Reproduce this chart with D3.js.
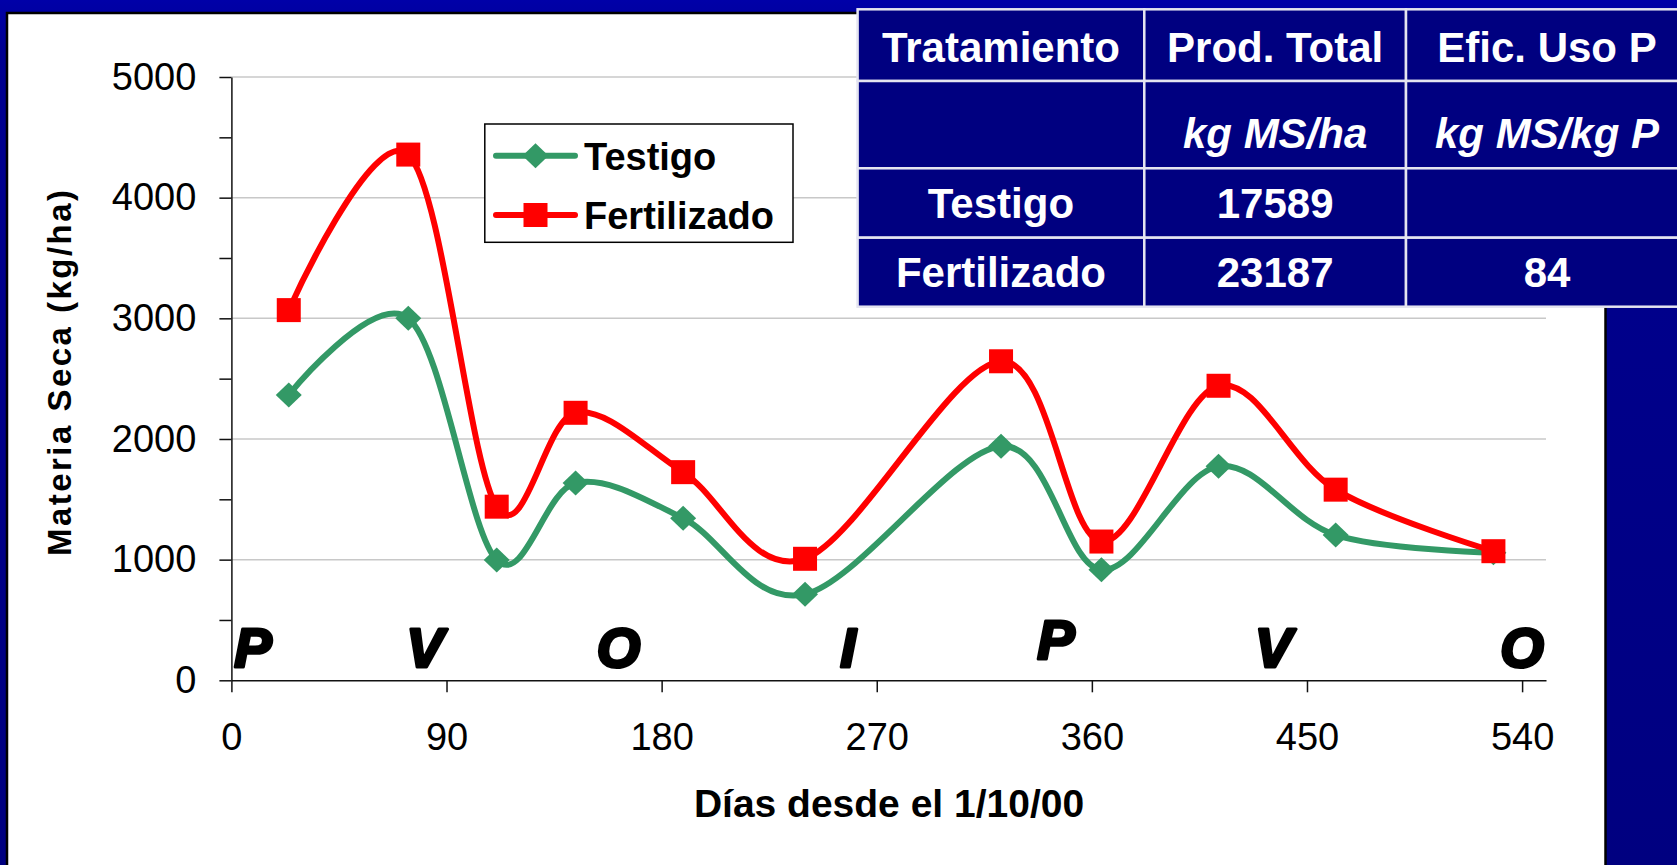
<!DOCTYPE html>
<html>
<head>
<meta charset="utf-8">
<script src="https://cdn.jsdelivr.net/npm/d3@7"></script>
<style>
  body { margin: 0; background: #000080; }
  svg { display: block; font-family: "Liberation Sans", Arial, sans-serif; }
</style>
</head>
<body>
<script>
// datos
var dias = [24, 74, 111, 144, 189, 240, 322, 364, 413, 462, 528];
var testigo = [2365, 3000, 997, 1635, 1343, 713, 1940, 916, 1773, 1204, 1058];
var fertilizado = [3068, 4357, 1439, 2217, 1725, 1007, 2644, 1150, 2441, 1580, 1070];

var xTicks = [0, 90, 180, 270, 360, 450, 540];
var yTicks = [0, 500, 1000, 1500, 2000, 2500, 3000, 3500, 4000, 4500, 5000];

var estaciones = ["P", "V", "O", "I", "P", "V", "O"];
var estacionDia = [9, 81, 162, 258, 345, 436, 540];
var estacionNivel = [110, 110, 110, 110, 180, 110, 110];

var tablaCabecera = ["Tratamiento", "Prod. Total", "Efic. Uso P"];
var tablaUnidades = ["", "kg MS/ha", "kg MS/kg P"];
var tablaFilas = [["Testigo", "17589", ""], ["Fertilizado", "23187", "84"]];

var w = 1677;
var h = 865;

var svg = d3.select("body")
    .append("svg")
    .attr("width", w)
    .attr("height", h);

// fondo
var defs = svg.append("defs");
var grad = defs.append("linearGradient")
    .attr("id", "fondo")
    .attr("x1", 0).attr("y1", 0).attr("x2", 0).attr("y2", 1);
grad.append("stop").attr("offset", "0%").attr("stop-color", "#0000a8");
grad.append("stop").attr("offset", "6%").attr("stop-color", "#000090");
grad.append("stop").attr("offset", "100%").attr("stop-color", "#000080");

svg.append("rect")
    .attr("width", w).attr("height", h)
    .attr("fill", "url(#fondo)");

// caja blanca del grafico
svg.append("rect")
    .attr("x", 7).attr("y", 13)
    .attr("width", 1598.5).attr("height", 900)
    .attr("fill", "white")
    .attr("stroke", "black")
    .attr("stroke-width", 2.5);

var x = d3.scaleLinear().domain([0, 550]).range([231.4, 1546]);
var y = d3.scaleLinear().domain([0, 5000]).range([680.3, 77]);

// lineas de grilla
svg.selectAll("line.grid")
    .data([1000, 2000, 3000, 4000, 5000])
    .enter()
    .append("line")
    .attr("class", "grid")
    .attr("x1", x(0)).attr("x2", x(550))
    .attr("y1", function (d) { return y(d); })
    .attr("y2", function (d) { return y(d); })
    .attr("stroke", "#c8c8c8")
    .attr("stroke-width", 1.5);

// ejes
var ejeY = svg.append("g")
    .attr("transform", "translate(" + x(0) + ",0)")
    .call(d3.axisLeft(y)
        .tickValues(yTicks)
        .tickSize(12)
        .tickSizeOuter(0)
        .tickPadding(23)
        .tickFormat(function (d) { return d % 1000 === 0 ? d : ""; }));

var ejeX = svg.append("g")
    .attr("transform", "translate(0," + y(0) + ")")
    .call(d3.axisBottom(x)
        .tickValues(xTicks)
        .tickSize(12)
        .tickSizeOuter(0)
        .tickPadding(31));

[ejeY, ejeX].forEach(function (g) {
    g.selectAll("path, line").attr("stroke", "#111").attr("stroke-width", 1.5);
    g.selectAll("text")
        .attr("font-size", 38)
        .attr("font-family", "'Liberation Sans', Arial, sans-serif")
        .attr("fill", "black");
});

// titulos de ejes
svg.append("text")
    .attr("x", 889).attr("y", 817)
    .attr("text-anchor", "middle")
    .attr("font-size", 39)
    .attr("font-weight", "bold")
    .text("Días desde el 1/10/00");

svg.append("text")
    .attr("transform", "translate(71,373) rotate(-90)")
    .attr("text-anchor", "middle")
    .attr("font-size", 33)
    .attr("font-weight", "bold")
    .attr("textLength", 366)
    .attr("lengthAdjust", "spacing")
    .text("Materia Seca (kg/ha)");

// estaciones
svg.selectAll("text.est")
    .data(estaciones)
    .enter()
    .append("text")
    .attr("class", "est")
    .attr("x", function (d, i) { return x(estacionDia[i]); })
    .attr("y", function (d, i) { return y(estacionNivel[i]); })
    .attr("text-anchor", "middle")
    .attr("font-size", 56)
    .attr("font-weight", "bold")
    .attr("font-style", "italic")
    .attr("stroke", "black")
    .attr("stroke-width", 3.2)
    .attr("stroke-linejoin", "round")
    .text(function (d) { return d; });

// series
var linea = d3.line()
    .x(function (d, i) { return x(dias[i]); })
    .y(function (d) { return y(d); })
    .curve(d3.curveCardinal.tension(0));

function diamante(cx, cy) {
    return "M" + cx + "," + (cy - 12.5) + "L" + (cx + 13) + "," + cy +
        "L" + cx + "," + (cy + 12.5) + "L" + (cx - 13) + "," + cy + "Z";
}

svg.append("path")
    .attr("d", linea(testigo))
    .attr("fill", "none")
    .attr("stroke", "#339966")
    .attr("stroke-width", 6)
    .attr("stroke-linejoin", "round");

svg.selectAll("path.dia")
    .data(testigo)
    .enter()
    .append("path")
    .attr("class", "dia")
    .attr("d", function (d, i) { return diamante(x(dias[i]), y(d)); })
    .attr("fill", "#339966");

svg.append("path")
    .attr("d", linea(fertilizado))
    .attr("fill", "none")
    .attr("stroke", "#ff0000")
    .attr("stroke-width", 6)
    .attr("stroke-linejoin", "round");

svg.selectAll("rect.cua")
    .data(fertilizado)
    .enter()
    .append("rect")
    .attr("class", "cua")
    .attr("x", function (d, i) { return x(dias[i]) - 12; })
    .attr("y", function (d) { return y(d) - 12; })
    .attr("width", 24)
    .attr("height", 24)
    .attr("fill", "#ff0000");

// leyenda
var ley = svg.append("g");
ley.append("rect")
    .attr("x", 484.8).attr("y", 124)
    .attr("width", 308.2).attr("height", 118.3)
    .attr("fill", "white")
    .attr("stroke", "black")
    .attr("stroke-width", 1.5);

ley.append("line")
    .attr("x1", 496).attr("x2", 575).attr("y1", 155.7).attr("y2", 155.7)
    .attr("stroke", "#339966").attr("stroke-width", 6).attr("stroke-linecap", "round");
ley.append("path").attr("d", diamante(535.5, 155.7)).attr("fill", "#339966");
ley.append("text")
    .attr("x", 584).attr("y", 170)
    .attr("font-size", 38).attr("font-weight", "bold")
    .text("Testigo");

ley.append("line")
    .attr("x1", 496).attr("x2", 575).attr("y1", 215).attr("y2", 215)
    .attr("stroke", "#ff0000").attr("stroke-width", 6).attr("stroke-linecap", "round");
ley.append("rect")
    .attr("x", 523.5).attr("y", 203).attr("width", 24).attr("height", 24)
    .attr("fill", "#ff0000");
ley.append("text")
    .attr("x", 584).attr("y", 229.3)
    .attr("font-size", 38).attr("font-weight", "bold")
    .text("Fertilizado");

// tabla
var colBordes = [857.6, 1144.3, 1406, 1688];
var filaBordes = [9.3, 81, 168.3, 237.7, 306.7];
var filaBase = [61.7, 148.3, 218.3, 287.3];
var celdas = [tablaCabecera, tablaUnidades].concat(tablaFilas);

var tabla = svg.append("g");
celdas.forEach(function (fila, r) {
    fila.forEach(function (txt, c) {
        tabla.append("rect")
            .attr("x", colBordes[c])
            .attr("y", filaBordes[r])
            .attr("width", colBordes[c + 1] - colBordes[c])
            .attr("height", filaBordes[r + 1] - filaBordes[r])
            .attr("fill", "#000080")
            .attr("stroke", "#e4e4f0")
            .attr("stroke-width", 2.5);
        tabla.append("text")
            .attr("x", (colBordes[c] + colBordes[c + 1]) / 2)
            .attr("y", filaBase[r])
            .attr("text-anchor", "middle")
            .attr("font-size", 42)
            .attr("font-weight", "bold")
            .attr("font-style", r === 1 ? "italic" : "normal")
            .attr("fill", "white")
            .text(txt);
    });
});
</script>
</body>
</html>
